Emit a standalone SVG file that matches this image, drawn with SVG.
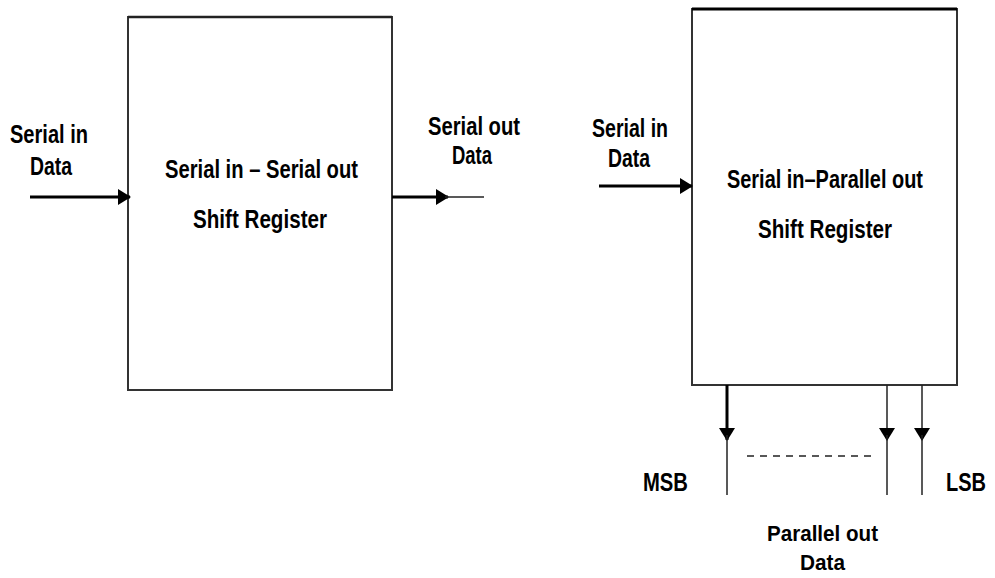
<svg xmlns="http://www.w3.org/2000/svg" width="995" height="578" viewBox="0 0 995 578">
<style>
text{font-family:"Liberation Sans",Arial,sans-serif;font-weight:bold;font-size:25px;fill:#000}
text.sm{font-size:22px}
.box{fill:#fff;stroke:#333;stroke-width:2}
.thick{stroke:#000;stroke-width:3;fill:none}
.thin{stroke:#222;stroke-width:1.5;fill:none}
</style>
<defs>
<marker id="ah" markerWidth="13" markerHeight="16" refX="12" refY="8" orient="auto" markerUnits="userSpaceOnUse">
<path d="M0,0 L13,8 L0,16 Z" fill="#000"/>
</marker>
</defs>
<rect width="995" height="578" fill="#fff"/>
<g id="sisoBox">
<rect class="box" x="128" y="17" width="264" height="373"/>
<path d="M128,17 H392" stroke="#222" stroke-width="2.5"/>
<text x="165" y="178" textLength="193" lengthAdjust="spacingAndGlyphs">Serial in – Serial out</text>
<text x="193" y="228" textLength="134" lengthAdjust="spacingAndGlyphs">Shift Register</text>
</g>
<g id="sipoBox">
<rect class="box" x="692" y="9" width="265" height="376"/>
<path d="M692,9 H957" stroke="#000" stroke-width="3"/>
<text x="727" y="188" textLength="196" lengthAdjust="spacingAndGlyphs">Serial in–Parallel out</text>
<text x="758" y="238" textLength="134" lengthAdjust="spacingAndGlyphs">Shift Register</text>
</g>
<g id="labels">
<text x="10" y="143" textLength="78" lengthAdjust="spacingAndGlyphs">Serial in</text>
<text x="30" y="175" textLength="42" lengthAdjust="spacingAndGlyphs">Data</text>
<text x="428" y="135" textLength="92" lengthAdjust="spacingAndGlyphs">Serial out</text>
<text x="452" y="164" textLength="40" lengthAdjust="spacingAndGlyphs">Data</text>
<text x="592" y="137" textLength="76" lengthAdjust="spacingAndGlyphs">Serial in</text>
<text x="608" y="167" textLength="42" lengthAdjust="spacingAndGlyphs">Data</text>
<text x="643" y="491" textLength="45" lengthAdjust="spacingAndGlyphs">MSB</text>
<text x="946" y="491" textLength="40" lengthAdjust="spacingAndGlyphs">LSB</text>
<text class="sm" x="767" y="541" textLength="111" lengthAdjust="spacingAndGlyphs">Parallel out</text>
<text class="sm" x="800" y="570" textLength="45" lengthAdjust="spacingAndGlyphs">Data</text>
</g>
<g id="connectors">
<line class="thick" x1="30" y1="197" x2="130" y2="197" marker-end="url(#ah)"/>
<line class="thick" x1="392" y1="197" x2="448" y2="197" marker-end="url(#ah)"/>
<line class="thin" x1="445" y1="197" x2="484" y2="197"/>
<line class="thick" x1="599" y1="186" x2="692" y2="186" marker-end="url(#ah)"/>
<line class="thick" x1="727" y1="385" x2="727" y2="440" marker-end="url(#ah)"/>
<line class="thin" x1="727" y1="435" x2="727" y2="495"/>
<line class="thin" x1="887" y1="385" x2="887" y2="440" marker-end="url(#ah)"/>
<line class="thin" x1="887" y1="435" x2="887" y2="495"/>
<line class="thin" x1="922" y1="385" x2="922" y2="440" marker-end="url(#ah)"/>
<line class="thin" x1="922" y1="435" x2="922" y2="495"/>
<line x1="747" y1="456" x2="877" y2="456" stroke="#222" stroke-width="1.5" stroke-dasharray="7,6"/>
</g>
</svg>
